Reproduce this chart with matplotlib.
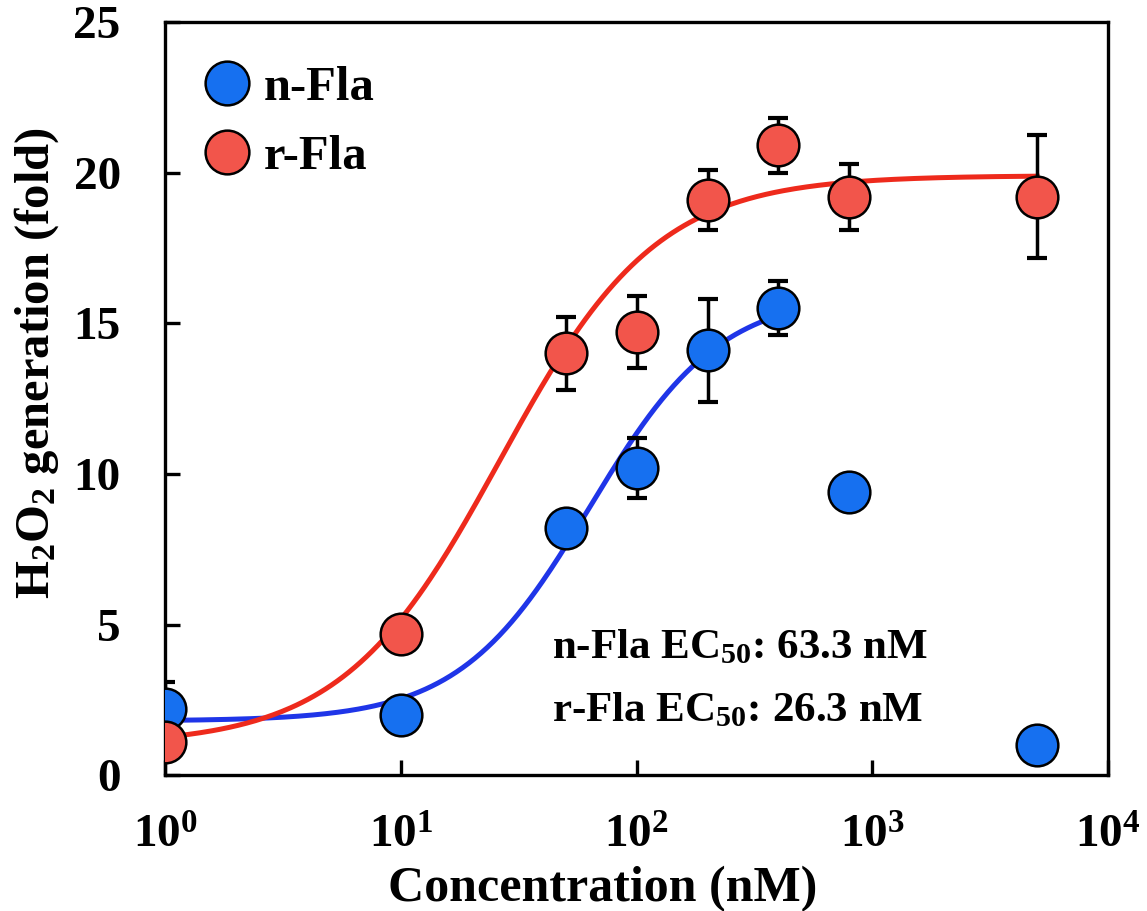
import numpy as np
import matplotlib.pyplot as plt

plt.rcParams['font.family'] = ['Liberation Serif', 'DejaVu Serif']
plt.rcParams['font.weight'] = 'bold'
plt.rcParams['mathtext.fontset'] = 'custom'
plt.rcParams['mathtext.rm'] = 'Liberation Serif:bold'
plt.rcParams['mathtext.it'] = 'Liberation Serif:bold'
plt.rcParams['mathtext.bf'] = 'Liberation Serif:bold'

# Concentrations (nM)
conc = [1, 10, 50, 100, 200, 400, 800, 5000]

# n-Fla response and error
n_fla = [2.2, 2.0, 8.2, 10.2, 14.1, 15.5, 9.4, 1.0]
n_err = [0.9, 0.0, 0.0, 1.0, 1.7, 0.9, 0.0, 0.0]

# r-Fla response and error
r_fla = [1.1, 4.7, 14.0, 14.7, 19.1, 20.9, 19.2, 19.2]
r_err = [0.0, 0.0, 1.2, 1.2, 1.0, 0.9, 1.1, 2.05]

# Hill fit parameters: bottom, top, EC50, slope
n_fit = (1.8, 16.0, 63.3, 1.57)
r_fit = (1.0, 19.9, 26.3, 1.3)


def hill(x, bottom, top, ec50, n):
    r = (x / ec50) ** n
    return bottom + (top - bottom) * r / (1 + r)


fig = plt.figure(figsize=(11.47, 9.11), dpi=100)
ax = fig.add_axes([0.144, 0.149, 0.822, 0.827])

blue_line = '#1f35e8'
red_line = '#ee2a1c'
blue_dot = '#1670f0'
red_dot = '#f2554b'

xs = np.logspace(0, np.log10(400), 300)
ax.plot(xs, hill(xs, *n_fit), color=blue_line, lw=3.6, zorder=2)
xs = np.logspace(0, np.log10(5000), 300)
ax.plot(xs, hill(xs, *r_fit), color=red_line, lw=3.6, zorder=2)

ax.errorbar(conc, r_fla, yerr=r_err, fmt='none', ecolor='black',
            elinewidth=2.5, capsize=7, capthick=3, zorder=3)
ax.errorbar(conc, n_fla, yerr=n_err, fmt='none', ecolor='black',
            elinewidth=2.5, capsize=7, capthick=3, zorder=3)

ax.plot(conc, n_fla, 'o', ms=30, mfc=blue_dot, mec='black', mew=1.8,
        zorder=4, label='n-Fla')
ax.plot(conc, r_fla, 'o', ms=30, mfc=red_dot, mec='black', mew=1.8,
        zorder=4, label='r-Fla')

ax.set_xscale('log')
ax.set_xlim(1, 1e4)
ax.set_ylim(0, 25)
ax.set_yticks([0, 5, 10, 15, 20, 25])
ax.set_xticks([1, 10, 100, 1000, 10000])
ax.set_xticklabels([r'$10^{%d}$' % i for i in range(5)])
ax.minorticks_off()

for s in ax.spines.values():
    s.set_linewidth(2.4)
ax.tick_params(direction='in', length=11, width=2.4, labelsize=34)
ax.tick_params(axis='y', pad=32)
ax.tick_params(axis='x', pad=29)

ax.set_xlabel('Concentration (nM)', fontsize=36, fontweight='bold')
ax.set_ylabel(r'H$_2$O$_2$ generation (fold)', fontsize=35, fontweight='bold')
ax.xaxis.set_label_coords(0.464, -0.120)
ax.yaxis.set_label_coords(-0.110, 0.547)

ax.text(0.41, 0.169, r'n-Fla EC$_{50}$: 63.3 nM', transform=ax.transAxes,
        fontsize=31, fontweight='bold', va='center')
ax.text(0.41, 0.086, r'r-Fla EC$_{50}$: 26.3 nM', transform=ax.transAxes,
        fontsize=31, fontweight='bold', va='center')

ax.legend(loc='upper left', frameon=False, fontsize=35, handlelength=1.0,
          handletextpad=0.25, borderaxespad=0.0, borderpad=0.0,
          labelspacing=0.52, markerscale=1.05,
          bbox_to_anchor=(0.040, 0.942))

fig.savefig('out.png', dpi=100)
